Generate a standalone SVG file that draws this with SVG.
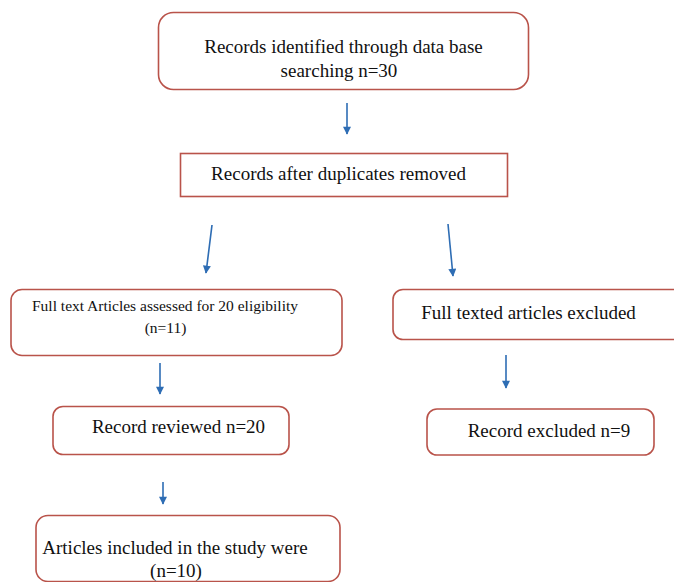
<svg xmlns="http://www.w3.org/2000/svg" width="674" height="582" viewBox="0 0 674 582">
<style>
.box{fill:#ffffff;stroke:#b9534a;stroke-width:1.6}
.t{font-family:"Liberation Serif","Times New Roman",serif;font-size:19px;fill:#111111;text-anchor:middle}
.s{font-size:15.5px}
.a{stroke:#2e6db4;stroke-width:1.6;fill:none}
</style>
<defs>
<marker id="ah" viewBox="0 0 10 10" refX="9" refY="5" markerWidth="9" markerHeight="8" markerUnits="userSpaceOnUse" orient="auto">
<path d="M0,0 L10,5 L0,10 Z" fill="#2e6db4"/>
</marker>
</defs>
<rect width="674" height="582" fill="#ffffff"/>
<g id="connectors">
<line class="a" x1="347" y1="103" x2="347" y2="134" marker-end="url(#ah)"/>
<line class="a" x1="212" y1="225" x2="206" y2="273" marker-end="url(#ah)"/>
<line class="a" x1="448" y1="224" x2="453" y2="276" marker-end="url(#ah)"/>
<line class="a" x1="160" y1="363" x2="160" y2="394" marker-end="url(#ah)"/>
<line class="a" x1="506" y1="355" x2="506" y2="388" marker-end="url(#ah)"/>
<line class="a" x1="163" y1="482" x2="163" y2="504" marker-end="url(#ah)"/>
</g>
<g id="n1">
<rect class="box" x="158.5" y="12.5" width="370" height="77" rx="15"/>
<text class="t" x="343.5" y="53">Records identified through data base</text>
<text class="t" x="339" y="77">searching n=30</text>
</g>
<g id="n2">
<rect class="box" x="180.5" y="153.5" width="327" height="43"/>
<text class="t" x="338.5" y="180">Records after duplicates removed</text>
</g>
<g id="n3">
<rect class="box" x="11" y="289.5" width="331" height="66" rx="11"/>
<text class="t s" x="165" y="311">Full text Articles assessed for 20 eligibility</text>
<text class="t s" x="165.5" y="333">(n=11)</text>
</g>
<g id="n4">
<rect class="box" x="393" y="289.5" width="300" height="50" rx="10"/>
<text class="t" x="528.5" y="319">Full texted articles excluded</text>
</g>
<g id="n5">
<rect class="box" x="53" y="406.5" width="236" height="48" rx="10"/>
<text class="t" x="178.5" y="433">Record reviewed n=20</text>
</g>
<g id="n6">
<rect class="box" x="427" y="409" width="227" height="46" rx="10"/>
<text class="t" x="549" y="437">Record excluded n=9</text>
</g>
<g id="n7">
<rect class="box" x="36" y="515.5" width="304" height="66" rx="12"/>
<text class="t" x="175" y="554">Articles included in the study were</text>
<text class="t" x="176" y="577">(n=10)</text>
</g>
</svg>
